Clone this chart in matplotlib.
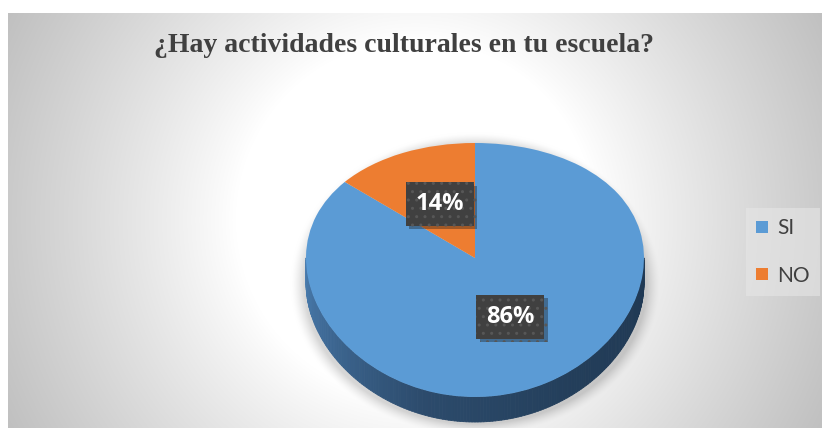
import numpy as np
import matplotlib.pyplot as plt
from matplotlib import patheffects
from matplotlib.collections import PolyCollection
from matplotlib.colors import LinearSegmentedColormap

# data
title = "¿Hay actividades culturales en tu escuela?"
labels = ["SI", "NO"]
values = [86, 14]
colors = ["#5b9bd5", "#ed7d31"]

# layout (pixels, measured from top-left)
W, H, DPI = 822, 428, 100
X0, Y0 = 8, 13          # chart area corner
CX, CY, RX = 475, 258, 169
S, K = 127, 0.0945      # vertical radius / perspective factor
DEPTH = 25              # pie thickness in px

plt.rcParams['hatch.color'] = '#575757'
plt.rcParams['hatch.linewidth'] = 1.0

fig = plt.figure(figsize=(W / DPI, H / DPI), dpi=DPI)
fig.patch.set_facecolor('white')

# background: radial gradient + soft shadow under the pie
bg = fig.add_axes([X0 / W, 0, (W - X0) / W, (H - Y0) / H])
yy, xx = np.mgrid[Y0:H, X0:W]
yy = yy + 0.5
xx = xx + 0.5
r = np.hypot(xx - 415, yy - 220)
shade = 1 - 0.25 * np.clip((r - 180) / 280, 0, 1) ** 0.9
q = np.hypot((xx - CX) / (RX + 2), (yy - (CY + 26)) / 140)
shade = shade - 0.16 * np.clip((1.08 - q) / 0.08, 0, 1) ** 1.5
bg.imshow(np.dstack([shade] * 3), extent=(X0, W, H, Y0), aspect='auto',
          interpolation='bilinear')
bg.set_xlim(X0, W)
bg.set_ylim(H, Y0)
bg.axis('off')


# fake perspective on the y axis: far half squashed, near half stretched
def fwd(y):
    return y - K * np.asarray(y) ** 2


def inv(t):
    return (1 - np.sqrt(np.clip(1 - 4 * K * np.asarray(t), 0, None))) / (2 * K)


YLO, YHI = -1.35, 1.15
ax = fig.add_axes([(CX - 1.2 * RX) / W, ((H - CY) + fwd(YLO) * S) / H,
                   2.4 * RX / W, (fwd(YHI) - fwd(YLO)) * S / H])
ax.set_yscale('function', functions=(fwd, inv))

# side of the pie (front half only)
ang = np.linspace(np.pi, 2 * np.pi, 181)
top = np.column_stack([np.cos(ang), np.sin(ang)])
bot = np.column_stack([np.cos(ang), inv(fwd(np.sin(ang)) - DEPTH / S)])
quads = [[top[i], top[i + 1], bot[i + 1], bot[i]] for i in range(len(ang) - 1)]
side_cmap = LinearSegmentedColormap.from_list(
    'side', [(0, '#4a7db0'), (0.4, '#2c4b6c'), (0.7, '#233e5a'), (1, '#1f3853')])
tt = (ang[:-1] - np.pi) / np.pi
side_cols = side_cmap(tt)
ax.add_collection(PolyCollection(quads, facecolors=side_cols, edgecolors=side_cols,
                                 linewidths=0.6, zorder=1))

wedges, _, autotexts = ax.pie(values, colors=colors, startangle=90, counterclock=False,
                              autopct='%1.0f%%', pctdistance=0.49,
                              wedgeprops=dict(linewidth=0, zorder=2),
                              textprops=dict(color='white', fontsize=17, weight='bold',
                                             family='Open Sans'))
for t in autotexts:
    t.set_zorder(5)
    t.set_bbox(dict(boxstyle='square,pad=0.42', fc='#404040', ec='#575757', lw=0,
                    hatch='..'))
    t.get_bbox_patch().set_path_effects([
        patheffects.SimplePatchShadow(offset=(2.5, -2.5), alpha=0.35),
        patheffects.Normal()])

ax.set_aspect('auto')
ax.set_xlim(-1.2, 1.2)
ax.set_ylim(YLO, YHI)
ax.axis('off')

fig.text(404 / W, 1 - 45 / H, title, ha='center', va='center',
         family='Liberation Serif', weight='bold', fontsize=20, color='#404040')

leg = fig.legend(wedges, labels, loc='center left', bbox_to_anchor=(746 / W, 1 - 252 / H),
                 prop=dict(family='Lato', size=15), labelcolor='#404040',
                 handlelength=0.55, handleheight=0.55, handletextpad=0.45,
                 labelspacing=1.3, borderpad=0.5, borderaxespad=0,
                 fancybox=False)
leg.get_frame().set_facecolor('#e6e6e6')
leg.get_frame().set_edgecolor('none')
leg.get_frame().set_alpha(0.6)

fig.savefig('out.png', dpi=DPI)
